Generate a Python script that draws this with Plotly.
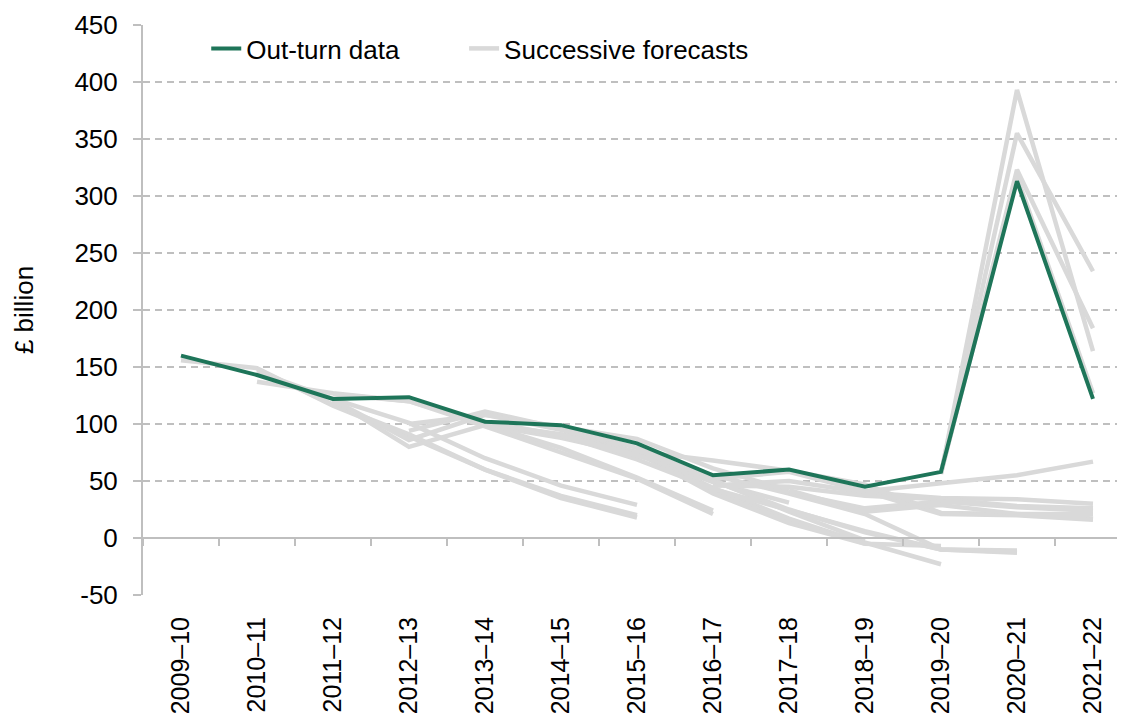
import plotly.graph_objects as go

N = None

years = ["2009–10", "2010–11", "2011–12", "2012–13", "2013–14", "2014–15", "2015–16",
         "2016–17", "2017–18", "2018–19", "2019–20", "2020–21", "2021–22"]

# out-turn borrowing, £bn
outturn = [160, 143, 122, 123.5, 102, 99, 83, 55, 60, 45, 58, 313, 122]

# successive forecasts, one list per forecast
jun_2010 = [156, 149, 116, 89, 60, 37, 20, N, N, N, N, N, N]
nov_2010 = [N, 148, 117, 91, 60, 35, 18, N, N, N, N, N, N]
mar_2011 = [N, 146, 122, 101, 70, 46, 29, N, N, N, N, N, N]
nov_2011 = [N, 137, 127, 120, 100, 79, 53, 24, N, N, N, N, N]
mar_2012 = [N, N, 126, 120, 98, 75, 52, 21, N, N, N, N, N]
dec_2012 = [N, N, 121, 80, 99, 88, 73, 49, 31, N, N, N, N]
mar_2013 = [N, N, 121, 86, 108, 97, 87, 61, 42, N, N, N, N]
dec_2013 = [N, N, N, 94, 111, 96, 79, 51, 23, -2, N, N, N]
mar_2014 = [N, N, N, 100, 108, 95, 75, 44, 17, -5, N, N, N]
dec_2014 = [N, N, N, N, 100, 91, 75, 41, 15, -4, -23, N, N]
mar_2015 = [N, N, N, N, 102, 90, 75, 39, 13, -5, -7, N, N]
jul_2015 = [N, N, N, N, N, 90, 69, 43, 24, 6, -10, -11, N]
nov_2015 = [N, N, N, N, N, 91, 73, 50, 25, 5, -10, -13, N]
mar_2016 = [N, N, N, N, N, 90, 72, 55, 39, 21, -10, -12, N]
nov_2016 = [N, N, N, N, N, N, 76, 68, 59, 47, 22, 21, 17]
mar_2017 = [N, N, N, N, N, N, 77, 52, 58, 41, 21, 20, 16]
nov_2017 = [N, N, N, N, N, N, N, 46, 50, 40, 35, 34, 30]
mar_2018 = [N, N, N, N, N, N, N, 46, 45, 37, 34, 28, 26]
oct_2018 = [N, N, N, N, N, N, N, N, 40, 26, 32, 27, 24]
mar_2019 = [N, N, N, N, N, N, N, N, 42, 23, 29, 21, 21]
mar_2020 = [N, N, N, N, N, N, N, N, N, 41, 48, 55, 67]
nov_2020 = [N, N, N, N, N, N, N, N, N, N, 56, 393, 164]
mar_2021 = [N, N, N, N, N, N, N, N, N, N, 57, 355, 234]
oct_2021 = [N, N, N, N, N, N, N, N, N, N, 57, 323, 184]
mar_2022 = [N, N, N, N, N, N, N, N, N, N, 57, 317, 127]

forecasts = [jun_2010, nov_2010, mar_2011, nov_2011, mar_2012, dec_2012, mar_2013,
             dec_2013, mar_2014, dec_2014, mar_2015, jul_2015, nov_2015, mar_2016,
             nov_2016, mar_2017, nov_2017, mar_2018, oct_2018, mar_2019, mar_2020,
             nov_2020, mar_2021, oct_2021, mar_2022]

y_ticks = [-50, 0, 50, 100, 150, 200, 250, 300, 350, 400, 450]
y_ticktext = ["-50", "0", "50", "100", "150", "200", "250", "300", "350", "400", "450"]

green = "#1e7559"
grey = "#d9d9d9"
axis_grey = "#bfbfbf"
font = "Liberation Sans, Arial, sans-serif"

fig = go.Figure()

for i, f in enumerate(forecasts):
    fig.add_trace(go.Scatter(x=years, y=f, mode="lines", name="Successive forecasts",
                             line=dict(color=grey, width=4.5), legendgroup="fc",
                             legend="legend2", showlegend=(i == 0)))

fig.add_trace(go.Scatter(x=years, y=outturn, mode="lines", name="Out-turn data",
                         line=dict(color=green, width=4), legend="legend"))

# invisible copy so the zero-line axis gets drawn
fig.add_trace(go.Scatter(x=years, y=outturn, xaxis="x2", mode="lines", opacity=0,
                         showlegend=False, hoverinfo="skip"))

xrange = [-0.5, 12.5]

# the page body adds an 8px offset, so margins are trimmed by 8
fig.update_layout(
    width=1125, height=716,
    margin=dict(l=135, r=2, t=15, b=129),
    plot_bgcolor="white", paper_bgcolor="white",
    font=dict(family=font, size=26, color="black"),
    showlegend=True,
    legend=dict(orientation="h", x=0.064, y=1.0, yanchor="top", xanchor="left",
                font=dict(size=26), bgcolor="rgba(0,0,0,0)"),
    legend2=dict(orientation="h", x=0.325, y=1.0, yanchor="top", xanchor="left",
                 font=dict(size=26), bgcolor="rgba(0,0,0,0)"),
    xaxis=dict(type="category", categoryorder="array", categoryarray=years,
               range=xrange, showline=False, showgrid=False, ticks="",
               tickangle=-90, ticklabelstandoff=16, tickfont=dict(size=25)),
    xaxis2=dict(type="category", categoryorder="array", categoryarray=years,
                range=xrange, overlaying="x", anchor="free", position=0.1,
                side="bottom", showline=True, linecolor=axis_grey, linewidth=2,
                ticks="outside", ticklen=7, tickwidth=2, tickcolor=axis_grey,
                tickson="boundaries", showticklabels=False, showgrid=False),
    yaxis=dict(range=[-50, 450], tickvals=y_ticks, ticktext=y_ticktext,
               showline=True, linecolor=axis_grey, linewidth=2,
               ticks="outside", ticklen=8, tickwidth=2, tickcolor=axis_grey,
               showgrid=True, gridcolor=axis_grey, gridwidth=2, griddash="7px,5px",
               zeroline=False, ticklabelstandoff=10,
               title=dict(text="£ billion", font=dict(size=26), standoff=33)),
)

fig.write_html("out.html")
